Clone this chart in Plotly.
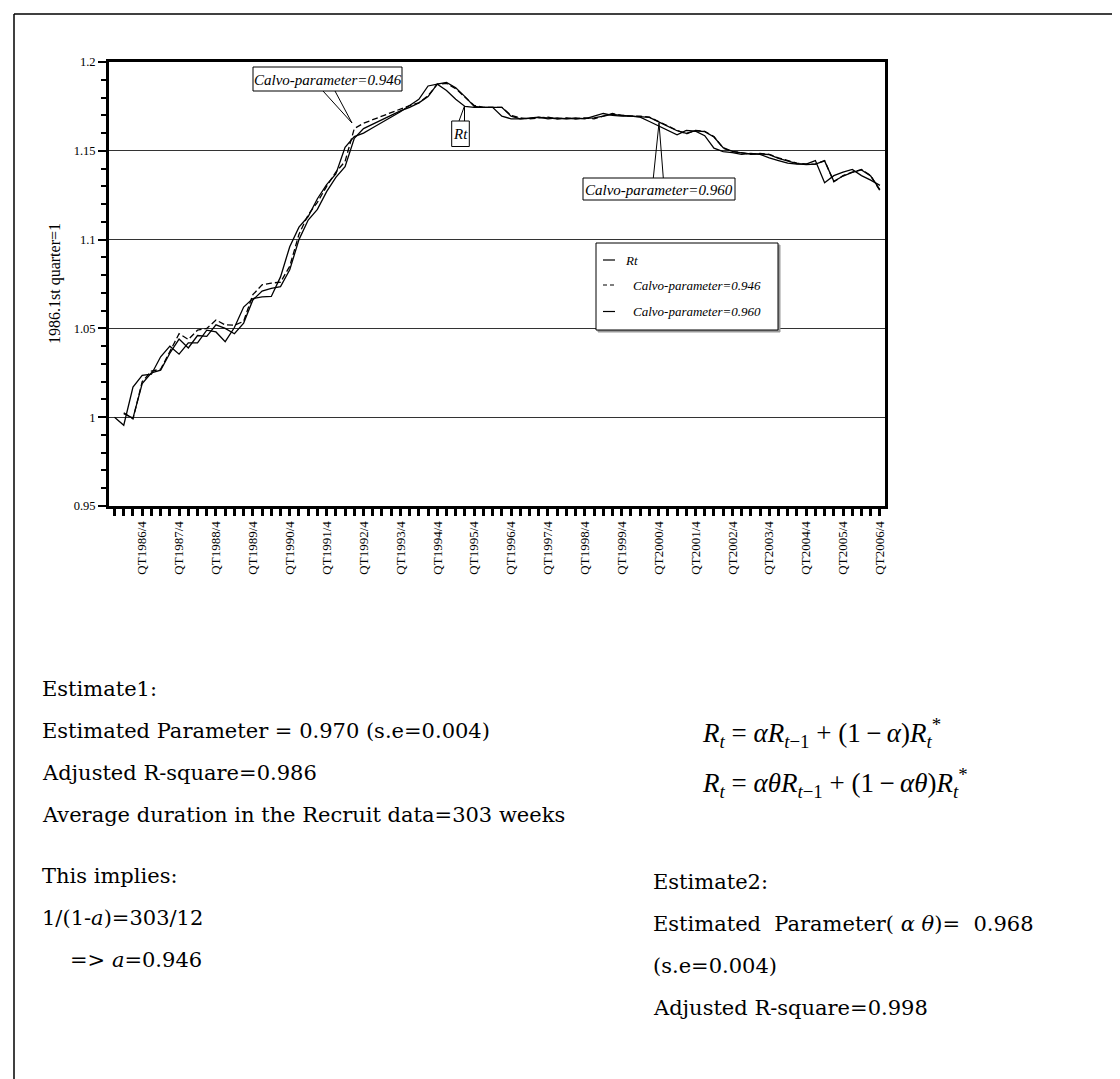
import plotly.graph_objects as go

# ---------------- data ----------------
quarters = [f"QT{y}/{q}" for y in range(1986, 2007) for q in range(1, 5)]
q4_labels = [q for q in quarters if q.endswith("/4")]

rt = [1.000, 0.9955, 1.017, 1.0235, 1.0242, 1.034, 1.040, 1.0355, 1.0419, 1.0419,
      1.049, 1.048, 1.0425, 1.0505, 1.062, 1.0668, 1.0677, 1.068, 1.079, 1.096,
      1.107, 1.113, 1.123, 1.131, 1.137, 1.152, 1.158, 1.160, 1.163, 1.166,
      1.169, 1.172, 1.1755, 1.179, 1.1865, 1.1875, 1.184, 1.179, 1.175, 1.1745,
      1.1745, 1.1745, 1.1695, 1.168, 1.168, 1.1685, 1.169, 1.168, 1.1685, 1.168,
      1.1685, 1.168, 1.1695, 1.171, 1.170, 1.1695, 1.1695, 1.169, 1.1665, 1.164,
      1.1615, 1.159, 1.1615, 1.161, 1.1585, 1.1515, 1.1495, 1.149, 1.148, 1.1485,
      1.148, 1.146, 1.1445, 1.143, 1.1425, 1.1425, 1.1445, 1.132, 1.136, 1.138,
      1.1395, 1.136, 1.1335, 1.1305]

calvo_946 = [None, 1.0025, 0.999, 1.020, 1.026, 1.027, 1.037, 1.047, 1.0438, 1.049,
             1.050, 1.0547, 1.052, 1.0518, 1.054, 1.069, 1.0745, 1.0755, 1.076, 1.085,
             1.103, 1.114, 1.121, 1.130, 1.138, 1.144, 1.1625, 1.1655, 1.1675, 1.1695,
             1.1715, 1.1735, 1.1755, 1.177, 1.181, 1.1875, 1.188, 1.185, 1.180, 1.1755,
             1.1745, 1.1745, 1.1745, 1.170, 1.1685, 1.168, 1.1685, 1.169, 1.168, 1.1685,
             1.168, 1.1685, 1.168, 1.1695, 1.171, 1.170, 1.1695, 1.1695, 1.169, 1.1665,
             1.164, 1.1615, 1.1595, 1.1615, 1.161, 1.158, 1.1515, 1.1495, 1.149, 1.148,
             1.1485, 1.148, 1.146, 1.1445, 1.143, 1.1425, 1.1425, 1.1445, 1.1325, 1.136,
             1.138, 1.1395, 1.136, 1.1275]

calvo_960 = [None, 1.002, 0.9995, 1.019, 1.025, 1.0265, 1.036, 1.044, 1.039, 1.046,
             1.0455, 1.052, 1.050, 1.047, 1.053, 1.066, 1.071, 1.0725, 1.0735, 1.083,
             1.100, 1.111, 1.117, 1.127, 1.135, 1.141, 1.157, 1.1625, 1.165, 1.1675,
             1.170, 1.1725, 1.1745, 1.177, 1.1805, 1.1875, 1.1885, 1.1855, 1.1805, 1.175,
             1.1745, 1.1745, 1.1745, 1.1695, 1.168, 1.1683, 1.1688, 1.1685, 1.168, 1.1683,
             1.168, 1.1683, 1.1685, 1.1695, 1.1705, 1.170, 1.1695, 1.1693, 1.1688, 1.1663,
             1.1638, 1.1613, 1.1598, 1.1613, 1.1608, 1.1578, 1.1518, 1.1497, 1.1488, 1.1482,
             1.1483, 1.1478, 1.1458, 1.1443, 1.1428, 1.1423, 1.1425, 1.1443, 1.1328, 1.1358,
             1.1378, 1.1392, 1.1358, 1.1282]

series_names = ["Rt", "Calvo-parameter=0.946", "Calvo-parameter=0.960"]

y_ticks = [0.95, 1.0, 1.05, 1.1, 1.15, 1.2]
y_tick_text = ["0.95", "1", "1.05", "1.1", "1.15", "1.2"]

# ---------------- layout helpers ----------------
OFF = 8                       # default body margin of the html page
FW, FH = 1120 - OFF, 1079 - OFF
# plot area in page pixels
L, R, T, B = 109, 885, 62, 506
PW, PH = R - L, B - T
ML, MT = L - OFF, T - OFF     # figure margins


def px(x):
    return (x - L) / PW


def py(y):
    return (B - y) / PH


SERIF = "Liberation Serif"
TEXTFONT = "DejaVu Serif"

xi = list(range(len(quarters)))
q4_pos = [i for i, q in enumerate(quarters) if q.endswith("/4")]

fig = go.Figure()
fig.add_trace(go.Scatter(x=xi, y=rt, mode="lines", name=series_names[0],
                         line=dict(color="black", width=1.3)))
fig.add_trace(go.Scatter(x=xi, y=calvo_946, mode="lines", name=series_names[1],
                         line=dict(color="black", width=1.3, dash="6px,3px")))
fig.add_trace(go.Scatter(x=xi, y=calvo_960, mode="lines", name=series_names[2],
                         line=dict(color="black", width=1.3)))

shapes = []
annotations = []


def line(x0, y0, x1, y1, width=1.0, color="black", dash=None):
    d = dict(type="line", xref="paper", yref="paper", x0=px(x0), y0=py(y0),
             x1=px(x1), y1=py(y1), line=dict(color=color, width=width), layer="above")
    if dash:
        d["line"]["dash"] = dash
    shapes.append(d)


def rect(x0, y0, x1, y1, width=1.0, fill="white", color="black"):
    shapes.append(dict(type="rect", xref="paper", yref="paper", x0=px(x0), y0=py(y0),
                       x1=px(x1), y1=py(y1), line=dict(color=color, width=width),
                       fillcolor=fill, layer="above"))


def text(x, y, s, size, family=TEXTFONT, anchor="left", italic=False):
    annotations.append(dict(xref="paper", yref="paper", x=px(x), y=py(y), text=s,
                            showarrow=False, xanchor=anchor, yanchor="middle",
                            font=dict(family=family, size=size, color="black",
                                      style="italic" if italic else "normal")))


# outer frame
line(14, 14, 1130, 14, width=1.5)
line(14, 14, 14, 1090, width=1.5)

# callout boxes with pointers
line(323, 91, 352, 123)
line(335, 91, 352, 123)
rect(253, 67, 402, 91)
text(327.5, 79.5, series_names[1], 15, SERIF, "center", True)

line(459, 121, 464.5, 106)
line(464.5, 121, 464.5, 106)
rect(451.7, 121, 469.3, 146.5)
text(460.5, 134, "Rt", 15, SERIF, "center", True)

line(653.3, 178, 659, 123)
line(663.3, 178, 659, 123)
rect(583, 178, 735, 200)
text(659, 189.5, series_names[2], 15, SERIF, "center", True)

# legend (with a light shadow)
rect(598, 245, 780, 332, width=1, fill="#9a9a9a", color="#9a9a9a")
rect(596, 243, 778, 330)
line(603, 260, 615, 260, width=1.2)
line(603, 285, 617, 285, width=1.2, dash="4px,3px")
line(603, 311.5, 615, 311.5, width=1.2)
text(623, 260, series_names[0], 13, SERIF, "left", True)
text(630.5, 285, series_names[1], 13, SERIF, "left", True)
text(630.5, 311.5, series_names[2], 13, SERIF, "left", True)

# y axis title
annotations.append(dict(xref="paper", yref="paper", x=px(55), y=py(284),
                        text="1986.1st quarter=1", showarrow=False, textangle=-90,
                        xanchor="center", yanchor="middle",
                        font=dict(family=SERIF, size=16, color="black")))

# text block
TS = 21
DY = 28
text(40, 661 + DY, "Estimate1:", TS)
text(40, 703 + DY, "Estimated Parameter = 0.970 (s.e=0.004)", TS)
text(40, 745 + DY, "Adjusted R-square=0.986", TS)
text(40, 787 + DY, "Average duration in the Recruit data=303 weeks", TS)
text(40, 848 + DY, "This implies:", TS)
text(40, 890 + DY, "1/(1-<i>a</i>)=303/12", TS)
text(68, 932 + DY, "=> <i>a</i>=0.946", TS)
text(651, 854 + DY, "Estimate2:", TS)
text(651, 896 + DY, "Estimated\u00a0\u00a0Parameter(\u00a0<i>α</i>\u00a0<i>θ</i>)=\u00a0\u00a00.968", TS)
text(651, 938 + DY, "(s.e=0.004)", TS)
text(651, 980 + DY, "Adjusted R-square=0.998", TS)

text(700, 733, "<i>R</i><sub><i>t</i></sub> = <i>αR</i><sub><i>t</i>−1</sub> + (1\u2009−\u2009<i>α</i>)<i>R</i><sub><i>t</i></sub><sup>*</sup>",
     27, SERIF)
text(700, 783, "<i>R</i><sub><i>t</i></sub> = <i>αθR</i><sub><i>t</i>−1</sub> + (1\u2009−\u2009<i>αθ</i>)<i>R</i><sub><i>t</i></sub><sup>*</sup>",
     27, SERIF)

fig.update_layout(
    width=FW, height=FH,
    margin=dict(l=ML, r=FW - (R - OFF), t=MT, b=FH - (B - OFF), pad=0),
    paper_bgcolor="white", plot_bgcolor="white",
    showlegend=False,
    shapes=shapes, annotations=annotations,
    font=dict(family=SERIF, color="black"),
    xaxis=dict(range=[-0.6, 83.55], tickmode="array",
               tickvals=q4_pos, ticktext=q4_labels, tickangle=-90,
               ticks="outside", ticklen=7, tickwidth=2.5, tickcolor="black",
               minor=dict(tickmode="linear", tick0=0, dtick=1, ticks="outside",
                          ticklen=7, tickwidth=2.5, tickcolor="black", showgrid=False),
               showline=True, linewidth=3, linecolor="black", mirror=True,
               showgrid=False, zeroline=False,
               tickfont=dict(family=SERIF, size=13, color="black")),
    yaxis=dict(range=[0.95, 1.2], tickmode="array",
               tickvals=y_ticks, ticktext=y_tick_text,
               ticks="outside", ticklen=8, tickwidth=2, tickcolor="black",
               minor=dict(dtick=0.01, tick0=0.95, ticks="outside", ticklen=5,
                          tickwidth=1.5, tickcolor="black", showgrid=False),
               showline=True, linewidth=3, linecolor="black", mirror=True,
               showgrid=True, gridcolor="#333333", gridwidth=1, zeroline=False,
               tickfont=dict(family=SERIF, size=12.5, color="black")),
)

fig.write_html("out.html")
